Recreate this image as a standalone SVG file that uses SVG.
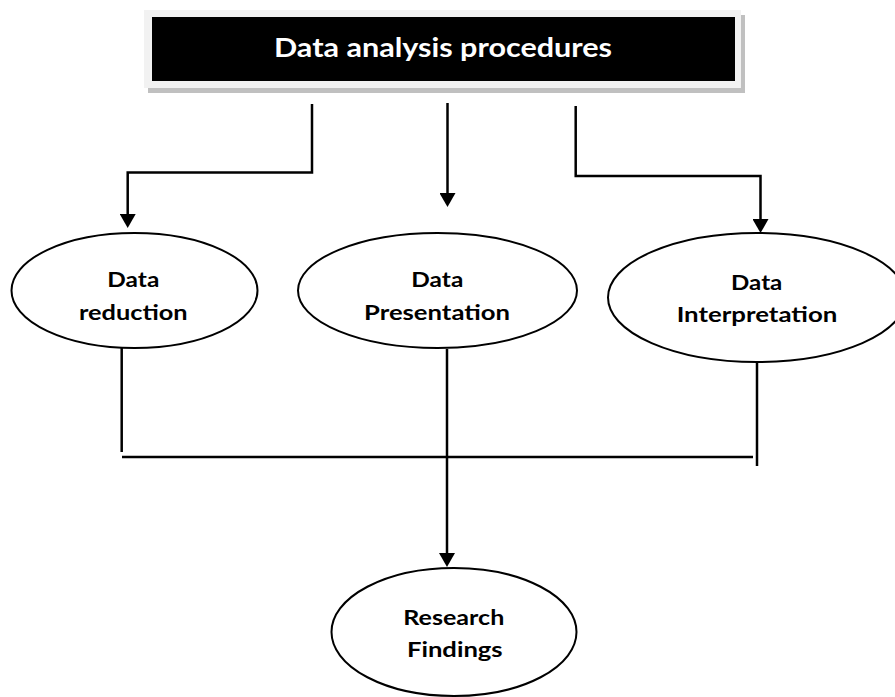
<svg xmlns="http://www.w3.org/2000/svg" width="895" height="697" viewBox="0 0 895 697">
  <style>
    .lbl { font-family: Lato, "Open Sans", "Liberation Sans", sans-serif; font-weight: bold; font-size: 21px; fill: #000; text-anchor: middle; }
    .title { font-family: Lato, "Open Sans", "Liberation Sans", sans-serif; font-weight: bold; font-size: 27px; fill: #fff; text-anchor: middle; }
    .node { fill: #fff; stroke: #000; stroke-width: 2; }
    .conn { fill: none; stroke: #000; stroke-width: 2.5; stroke-linejoin: miter; }
  </style>
  <defs>
    <marker id="arrow" markerUnits="userSpaceOnUse" markerWidth="16" markerHeight="16" refX="0" refY="8" orient="auto">
      <path d="M0,0 L14,8 L0,16 Z" fill="#000"/>
    </marker>
  </defs>
  <rect width="895" height="697" fill="#fff"/>

  <g id="title">
    <rect x="148" y="15" width="597" height="78" fill="#c0c0c0"/>
    <rect x="144" y="10" width="597" height="78" fill="#f2f2f2"/>
    <rect x="152" y="17" width="583" height="64" fill="#000"/>
    <text class="title" x="443" y="57" textLength="338" lengthAdjust="spacingAndGlyphs">Data analysis procedures</text>
  </g>

  <g id="connectors">
    <path class="conn" d="M312,104 V172.5 H127.7 V214" marker-end="url(#arrow)"/>
    <path class="conn" d="M447.5,103 V193" marker-end="url(#arrow)" stroke-width="2"/>
    <path class="conn" d="M575.7,106 V176 H760.5 V219" marker-end="url(#arrow)"/>
    <path class="conn" d="M121.7,348 V452"/>
    <path class="conn" d="M757,363 V466"/>
    <path class="conn" d="M122,457 H753"/>
    <path class="conn" d="M447,349 V553" stroke-width="3" marker-end="url(#arrow)"/>
  </g>

  <g id="data-reduction">
    <ellipse class="node" cx="134.5" cy="290.5" rx="123" ry="57.5"/>
    <text class="lbl" x="133.3" y="286.7" textLength="52" lengthAdjust="spacingAndGlyphs">Data</text>
    <text class="lbl" x="133.3" y="320" textLength="108.7" lengthAdjust="spacingAndGlyphs">reduction</text>
  </g>

  <g id="data-presentation">
    <ellipse class="node" cx="437.5" cy="290.5" rx="139.5" ry="57.5"/>
    <text class="lbl" x="437.3" y="286.7" textLength="52" lengthAdjust="spacingAndGlyphs">Data</text>
    <text class="lbl" x="437" y="320" textLength="146" lengthAdjust="spacingAndGlyphs">Presentation</text>
  </g>

  <g id="data-interpretation">
    <ellipse class="node" cx="757" cy="297.5" rx="149" ry="64.5"/>
    <text class="lbl" x="756.7" y="290" textLength="51.3" lengthAdjust="spacingAndGlyphs">Data</text>
    <text class="lbl" x="757" y="321.7" textLength="160.7" lengthAdjust="spacingAndGlyphs">Interpretation</text>
  </g>

  <g id="research-findings">
    <ellipse class="node" cx="454" cy="632" rx="122.5" ry="64"/>
    <text class="lbl" x="453.8" y="625" textLength="101" lengthAdjust="spacingAndGlyphs">Research</text>
    <text class="lbl" x="454.8" y="657.3" textLength="95.7" lengthAdjust="spacingAndGlyphs">Findings</text>
  </g>
</svg>
